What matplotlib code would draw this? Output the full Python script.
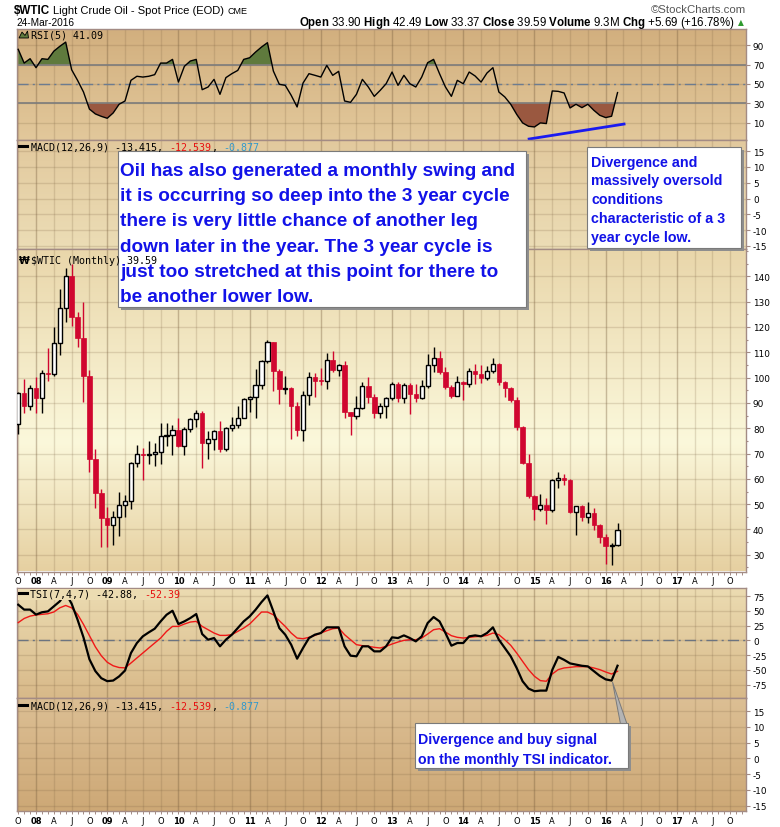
"""Monthly $WTIC chart (StockCharts style) with RSI, TSI and two empty MACD panes."""
import numpy as np
import matplotlib
matplotlib.use("Agg")
import matplotlib.pyplot as plt
from matplotlib.colors import LinearSegmentedColormap
from matplotlib.lines import Line2D
from matplotlib.patches import Polygon, Rectangle

plt.rcParams.update({
    "font.family": ["DejaVu Sans"],
    "axes.unicode_minus": False,
    "mathtext.fontset": "custom",
    "mathtext.rm": "Liberation Sans",
    "mathtext.bf": "Liberation Sans:bold",
})

# ---- data: monthly bars Oct 2007 .. Mar 2016 (x = months since Jan 2008) ----
first_month = -3
opens = [
    81.7, 94.0, 88.7,
    96.0, 91.8, 101.8, 101.6, 113.5, 127.4, 140.0, 124.1, 115.5, 100.6, 67.8, 54.4,
    44.6, 41.7, 44.8, 49.7, 51.1, 66.3, 69.9, 69.5, 70.0, 70.6, 77.0, 77.3,
    79.4, 72.9, 79.7, 83.8, 86.2, 74.0, 75.6, 78.9, 71.9, 80.0, 81.4, 84.1,
    91.4, 92.2, 97.0, 106.7, 113.9, 102.7, 95.4, 95.7, 88.8, 79.2, 93.2, 100.4,
    98.8, 98.5, 107.1, 103.0, 104.9, 86.5, 85.0, 88.1, 96.5, 92.2, 86.2, 88.9,
    91.8, 97.5, 92.1, 97.2, 93.5, 92.0, 96.6, 105.0, 107.7, 102.3, 96.4, 92.7,
    98.4, 97.5, 102.6, 101.6, 99.7, 102.7, 105.4, 98.2, 96.0, 91.2, 80.5, 66.2,
    53.3, 48.2, 49.8, 47.6, 59.6, 60.3, 59.5, 47.1, 49.2, 45.1, 46.6, 41.7,
    37.0, 33.6, 33.9,
]
highs = [
    94.5, 99.3, 97.0,
    100.1, 103.0, 111.8, 119.9, 135.1, 143.3, 145.0, 126.0, 130.0, 103.0, 71.7, 56.0,
    49.0, 47.4, 54.7, 53.7, 66.6, 73.4, 72.0, 75.0, 74.0, 82.0, 82.0, 81.4,
    83.9, 80.6, 83.9, 87.2, 87.0, 79.0, 79.3, 82.9, 80.3, 84.4, 88.6, 92.0,
    92.6, 103.4, 106.9, 114.8, 114.2, 103.4, 100.6, 96.1, 90.5, 94.6, 102.4, 101.8,
    103.7, 109.8, 110.5, 105.5, 106.4, 86.6, 92.9, 98.3, 100.4, 93.5, 89.8, 92.5,
    98.2, 98.2, 97.8, 97.8, 97.3, 99.0, 109.3, 112.2, 110.7, 104.3, 96.9, 100.8,
    98.6, 103.9, 105.2, 105.0, 104.4, 107.7, 105.6, 98.7, 96.2, 92.2, 81.0, 69.7,
    53.7, 54.2, 52.5, 59.9, 62.6, 61.9, 59.9, 49.3, 49.5, 50.9, 48.4, 42.0,
    38.4, 34.7, 42.5,
]
lows = [
    77.6, 86.0, 87.2,
    86.1, 86.1, 98.7, 100.5, 109.0, 122.0, 120.4, 112.2, 90.5, 62.7, 48.4, 33.0,
    33.2, 34.0, 37.5, 45.0, 48.0, 64.6, 59.5, 66.0, 65.0, 66.0, 73.0, 69.5,
    72.4, 69.5, 78.5, 80.5, 64.2, 68.0, 71.5, 70.8, 71.0, 79.0, 80.0, 84.0,
    86.5, 84.1, 95.5, 105.6, 94.6, 89.7, 93.5, 75.7, 77.1, 75.0, 89.2, 92.5,
    97.2, 95.4, 102.1, 100.7, 84.1, 77.3, 83.6, 87.4, 89.9, 84.0, 84.0, 84.0,
    91.3, 90.4, 89.9, 85.6, 90.5, 91.5, 96.0, 102.2, 101.5, 95.4, 91.8, 92.6,
    91.2, 96.3, 97.4, 97.9, 98.9, 101.7, 97.2, 92.5, 90.4, 79.4, 65.7, 52.4,
    43.6, 47.4, 42.0, 47.1, 56.5, 57.5, 46.7, 37.8, 43.2, 42.6, 39.9, 34.5,
    26.2, 26.1, 33.4,
]
closes = [
    94.0, 88.7, 96.0,
    91.8, 101.8, 101.6, 113.5, 127.4, 140.0, 124.1, 115.5, 100.6, 67.8, 54.4, 44.6,
    41.7, 44.8, 49.7, 51.1, 66.3, 69.9, 69.5, 70.0, 70.6, 77.0, 77.3, 79.4,
    72.9, 79.7, 83.8, 86.2, 74.0, 75.6, 79.0, 71.9, 80.0, 81.4, 84.1, 91.4,
    92.2, 97.0, 106.7, 113.9, 102.7, 95.4, 95.7, 88.8, 79.2, 93.2, 100.4, 98.8,
    98.5, 107.1, 103.0, 104.9, 86.5, 85.0, 88.1, 96.5, 92.2, 86.2, 88.9, 91.8,
    97.5, 92.1, 97.2, 93.5, 92.0, 96.6, 105.0, 107.7, 102.3, 96.4, 92.7, 98.4,
    97.5, 102.6, 101.6, 99.7, 102.7, 105.4, 98.2, 96.0, 91.2, 80.5, 66.2, 53.3,
    48.2, 49.8, 47.6, 59.6, 60.3, 59.5, 47.1, 49.2, 45.1, 46.6, 41.7, 37.0,
    33.6, 33.8, 39.6,
]
rsi5 = [
    85.9, 71.7, 76.2,
    66.9, 76.2, 75.5, 84.0, 89.0, 93.4, 64.8, 53.8, 41.7, 24.0, 19.0, 16.5,
    14.5, 20.0, 29.0, 32.4, 53.8, 58.0, 57.2, 58.0, 59.7, 71.7, 71.7, 75.5,
    52.0, 68.3, 73.8, 75.5, 44.1, 46.9, 54.8, 39.3, 56.6, 60.7, 64.1, 75.5,
    77.2, 83.1, 88.3, 92.8, 63.4, 49.7, 48.6, 38.3, 26.2, 51.0, 60.7, 59.0,
    57.2, 69.3, 59.0, 63.1, 32.4, 31.0, 39.3, 54.8, 46.9, 37.2, 43.4, 50.3,
    62.4, 48.6, 59.0, 50.3, 46.9, 57.2, 72.1, 75.5, 60.7, 46.9, 37.2, 53.8,
    50.3, 62.4, 58.3, 52.0, 61.4, 66.9, 41.7, 36.6, 29.0, 18.6, 9.7, 6.2,
    5.5, 9.7, 9.0, 42.8, 42.4, 40.7, 25.2, 29.0, 25.5, 29.0, 22.8, 17.6,
    15.2, 16.6, 41.1,
]
tsi = [
    60.3, 52.0, 52.0,
    43.6, 47.5, 49.0, 57.5, 66.0, 80.0, 62.0, 35.0, 5.0, -32.0, -52.0, -64.0,
    -69.0, -68.0, -61.0, -51.0, -21.4, -4.5, 6.8, 13.5, 19.7, 32.1, 43.3, 50.1,
    27.6, 32.1, 37.7, 44.5, 10.7, 1.1, 3.9, -10.1, 1.1, 9.6, 20.8, 32.1,
    40.5, 51.8, 64.7, 76.0, 49.0, 20.8, 9.6, -7.3, -31.0, -12.9, 3.9, 9.6,
    12.4, 22.0, 22.0, 22.0, -10.1, -25.9, -27.0, -10.1, -10.1, -18.6, -18.6, -10.1,
    5.1, 3.9, 8.4, 3.9, -1.7, 6.8, 29.3, 39.4, 32.1, 12.4, -9.0, -4.5,
    -4.5, 6.8, 8.4, 6.8, 12.4, 22.0, 1.1, -12.9, -27.0, -46.7, -69.2, -81.6,
    -86.0, -85.0, -85.0, -50.0, -28.0, -33.0, -39.0, -41.0, -43.0, -44.0, -52.0, -60.0,
    -66.0, -68.0, -42.9,
]
tsi_signal = [
    30.0, 37.0, 41.0,
    43.0, 44.0, 45.0, 48.0, 55.0, 59.0, 55.0, 44.0, 27.0, 8.0, -11.0, -26.0,
    -37.0, -43.0, -46.0, -46.5, -38.3, -29.8, -21.4, -12.9, -4.5, 3.9, 15.2, 23.6,
    23.6, 27.6, 31.0, 32.1, 23.6, 18.0, 12.4, 8.4, 8.4, 9.6, 15.2, 20.8,
    27.6, 37.7, 47.9, 47.9, 43.3, 33.2, 23.6, 12.4, 3.9, 2.8, 5.1, 8.4,
    12.4, 16.3, 19.7, 20.8, 9.6, 1.1, -7.3, -9.0, -10.1, -11.8, -12.9, -10.1,
    -6.2, -2.8, 0.0, 1.1, 1.1, 3.9, 10.7, 18.0, 19.7, 14.1, 7.9, 5.1,
    3.9, 5.1, 6.2, 6.8, 8.4, 12.4, 9.6, 1.1, -8.4, -21.4, -35.5, -49.5,
    -60.8, -68.1, -69.2, -56.9, -49.5, -46.7, -45.6, -44.5, -44.5, -44.5, -46.7, -49.5,
    -53.5, -56.9, -52.4,
]
# hand-drawn divergence line on the RSI pane (month, rsi)
div_x = [83.1, 99.1]
div_y = [-7.0, 8.5]

note_main = ["Oil has also generated a monthly swing and",
             "it is occurring so deep into the 3 year cycle",
             "there is very little chance of another leg",
             "down later in the year. The 3 year cycle is",
             "just too stretched at this point for there to",
             "be another lower low."]
note_rsi = ["Divergence and", "massively oversold", "conditions",
            "characteristic of a 3", "year cycle low."]
note_tsi = ["Divergence and buy signal", "on the monthly TSI indicator."]

# ---- layout (pixel coords measured from the top-left of the 780x828 canvas) ----
W, H = 780, 828
L_PX, R_PX = 16.5, 746.0
XMIN, XMAX = -3.29, 119.65
SPINE = "#A38B84"
GRID = "#7A6040"
RED = "#D0062F"
BLUE = "#1212E8"

months = np.arange(first_month, first_month + len(closes))
quarters = np.arange(-3, 120, 3)
qlabels = [f"{8 + q // 12:02d}" if q % 12 == 0 else {3: "A", 6: "J", 9: "O"}[q % 12]
           for q in quarters]

fig = plt.figure(figsize=(7.8, 8.28), dpi=100)
fig.patch.set_facecolor("white")


def panel(top, bottom, ylim, stops, yticks):
    ax = fig.add_axes([L_PX / W, 1 - bottom / H, (R_PX - L_PX) / W, (bottom - top) / H])
    cmap = LinearSegmentedColormap.from_list("bg", stops)
    ax.imshow(np.linspace(0, 1, 256)[:, None], cmap=cmap, aspect="auto",
              extent=[0, 1, 0, 1], transform=ax.transAxes, zorder=0,
              interpolation="bilinear")
    ax.set_xlim(XMIN, XMAX)
    ax.set_ylim(*ylim)
    ax.set_xticks(quarters)
    ax.set_xticklabels([])
    ax.yaxis.tick_right()
    ax.set_yticks(yticks)
    ax.tick_params(axis="y", which="both", length=3, width=0.8, color=SPINE,
                   pad=2, labelsize=6.4)
    ax.tick_params(axis="x", length=0)
    ax.grid(True, which="major", color=GRID, alpha=0.2, lw=1)
    for q in quarters[quarters % 12 == 0]:
        ax.axvline(q, color=GRID, alpha=0.22, lw=1, zorder=1)
    for s in ax.spines.values():
        s.set_color(SPINE)
        s.set_linewidth(1)
    return ax


def month_axis(ax):
    ax.set_xticklabels(qlabels)
    ax.xaxis.set_minor_locator(matplotlib.ticker.MultipleLocator(1))
    ax.tick_params(axis="x", which="both", length=2, width=0.7, color=SPINE,
                   pad=1.5, labelsize=6)
    for t in ax.get_xticklabels():
        if t.get_text().isdigit():
            t.set_fontweight("bold")


ax_rsi = panel(29.5, 140.5, (-7.5, 107.5), ["#D2AF7E", "#E2C89B"], [10, 30, 50, 70, 90])
ax_m1 = panel(140.5, 250, (-16.0, 18.7), ["#E2C99D", "#ECDDB6"], range(-15, 16, 5))
ax_px = panel(250, 572.5, (23.4, 150.8),
              [(0, "#E9D6AA"), (0.6, "#FBF8DB"), (1, "#E6D0A1")], range(30, 141, 10))
ax_tsi = panel(588.5, 699, (-97.5, 89.4), ["#ECDCB2", "#D8B989"], range(-75, 76, 25))
ax_m2 = panel(699, 811.7, (-16.6, 19.2), ["#DCBF94", "#CDA876"], range(-15, 16, 5))
month_axis(ax_px)
month_axis(ax_m2)
ax_px.yaxis.set_minor_locator(matplotlib.ticker.MultipleLocator(5))
ax_px.tick_params(axis="y", which="minor", length=1.5)

# ---- RSI ----
rsi = np.array(rsi5)
ax_rsi.fill_between(months, rsi, 70, where=rsi >= 70, interpolate=True,
                    color="#5F7A3D", lw=0, zorder=2)
ax_rsi.fill_between(months, rsi, 30, where=rsi <= 30, interpolate=True,
                    color="#9A5840", lw=0, zorder=2)
for lvl in (70, 30):
    ax_rsi.axhline(lvl, color="#7C7C7C", lw=1.2, zorder=2.5)
ax_rsi.axhline(50, color="#6C7C90", lw=1, ls=(0, (8, 3, 1.5, 3)), zorder=2.5)
ax_rsi.plot(months, rsi, color="black", lw=1, zorder=3)
ax_rsi.plot(div_x, div_y, color="#1A1AF0", lw=2, zorder=5, clip_on=False)

# ---- price candles ----
o, hi, lo, c = map(np.array, (opens, highs, lows, closes))
up = c >= o
body_low = np.minimum(o, c)
body_h = np.maximum(np.abs(c - o), 0.4)
ax_px.vlines(months[up], lo[up], hi[up], color="black", lw=1, zorder=3)
ax_px.vlines(months[~up], lo[~up], hi[~up], color=RED, lw=1, zorder=3)
ax_px.bar(months[up], body_h[up], 0.7, bottom=body_low[up], facecolor="white",
          edgecolor="black", lw=1, zorder=4)
ax_px.bar(months[~up], body_h[~up], 0.76, bottom=body_low[~up], facecolor=RED,
          edgecolor=RED, lw=0.5, zorder=4)

# ---- TSI ----
ax_tsi.axhline(0, color="#6C7480", lw=1, ls=(0, (8, 3, 1.5, 3)), zorder=2)
ax_tsi.plot(months, tsi_signal, color="#F01818", lw=1, zorder=3)
ax_tsi.plot(months, tsi, color="black", lw=1.6, zorder=4)


# ---- texts / decorations ----
def ftext(x, y, s, **kw):
    kw.setdefault("va", "baseline")
    kw.setdefault("zorder", 12)
    return fig.text(x / W, 1 - y / H, s, **kw)


def frect(x0, y0, x1, y1, **kw):
    fig.add_artist(Rectangle((x0 / W, 1 - y1 / H), (x1 - x0) / W, (y1 - y0) / H,
                             transform=fig.transFigure, **kw))


SANS = ["Liberation Sans", "DejaVu Sans"]
ftext(14, 14, "$WTIC", family=SANS, weight="bold", size=8.4)
ftext(53, 14, "Light Crude Oil - Spot Price (EOD)", family=SANS, size=8)
ftext(228, 14, "CME", family=SANS, size=6.5)
ftext(16.5, 26, "24-Mar-2016", family=SANS, size=7.3)
ftext(746, 13, "\u00a9StockCharts.com", family=SANS, size=8.2, color="#555555", ha="right")
ftext(735, 26, r"$\mathbf{Open}$ 33.90 $\mathbf{High}$ 42.49 $\mathbf{Low}$ 33.37 "
      r"$\mathbf{Close}$ 39.59 $\mathbf{Volume}$ 9.3M $\mathbf{Chg}$ +5.69 (+16.78%)",
      family=SANS, size=8.3, ha="right")
ftext(738, 25, "\u25b2", size=5.5, color="#2E9A2E")

MONO = dict(family="DejaVu Sans Mono", size=7.2)
CW = 6.02


def pane_label(x, y, parts):
    for s, col in parts:
        ftext(x, y, s, color=col, **MONO)
        x += len(s) * CW


def dash(y):
    fig.add_artist(Line2D([19 / W, 27 / W], [1 - y / H] * 2, color="black", lw=2.2,
                          transform=fig.transFigure, zorder=12))


# RSI icon + label
fig.add_artist(Polygon([(19 / W, 1 - 39 / H), (22 / W, 1 - 33 / H), (25 / W, 1 - 36.5 / H),
                        (27.5 / W, 1 - 32 / H), (28.5 / W, 1 - 39 / H)], closed=True,
                       transform=fig.transFigure, fc="#5F7A3D", ec="black", lw=0.6, zorder=12))
pane_label(31, 39, [("RSI(5) 41.09", "black")])
macd_parts = [("MACD(12,26,9) -13.415, ", "black"), ("-12.539", "#E81010"),
              (", ", "black"), ("-0.877", "#3399CC")]
dash(147.3)
pane_label(31, 151, macd_parts)
ftext(18.5, 263.7, "\u20a9", size=7, weight="bold", zorder=6)
pane_label(31, 263.7, [("$WTIC (Monthly) 39.59", "black")])
frect(17.5, 589.5, 177, 601, fc="#ECDCB2", ec="none", zorder=11)
dash(594.3)
pane_label(30, 598, [("TSI(7,4,7) -42.88, ", "black"), ("-52.39", "#E81010")])
dash(706)
pane_label(31, 709.7, macd_parts)


def note(x0, y0, x1, y1, lines, tx, base, step, size):
    frect(x0 + 3, y0 + 3, x1 + 3, y1 + 3, fc="#8E8E8E", ec="none", zorder=10)
    frect(x0, y0, x1, y1, fc="white", ec="#7A7A7A", lw=0.8, zorder=11)
    for i, s in enumerate(lines):
        ftext(tx, base + step * i, s, family=SANS, weight="bold", size=size, color=BLUE)


fig.add_artist(Polygon([(612.5 / W, 1 - 683 / H), (620.5 / W, 1 - 725 / H),
                        (627 / W, 1 - 725 / H)], closed=True, transform=fig.transFigure,
                       fc="#B4B4B4", ec="#7A7A7A", lw=0.7, zorder=9))
note(118, 152.3, 526, 308.3, note_main, 120.5, 176.2, 25.1, 13.7)
note(587, 148.3, 741, 249, note_rsi, 591, 166.7, 18.75, 10.3)
note(415, 724.3, 627.5, 769, note_tsi, 417.5, 744.3, 19.4, 10.2)

fig.savefig("out.png", dpi=100)
